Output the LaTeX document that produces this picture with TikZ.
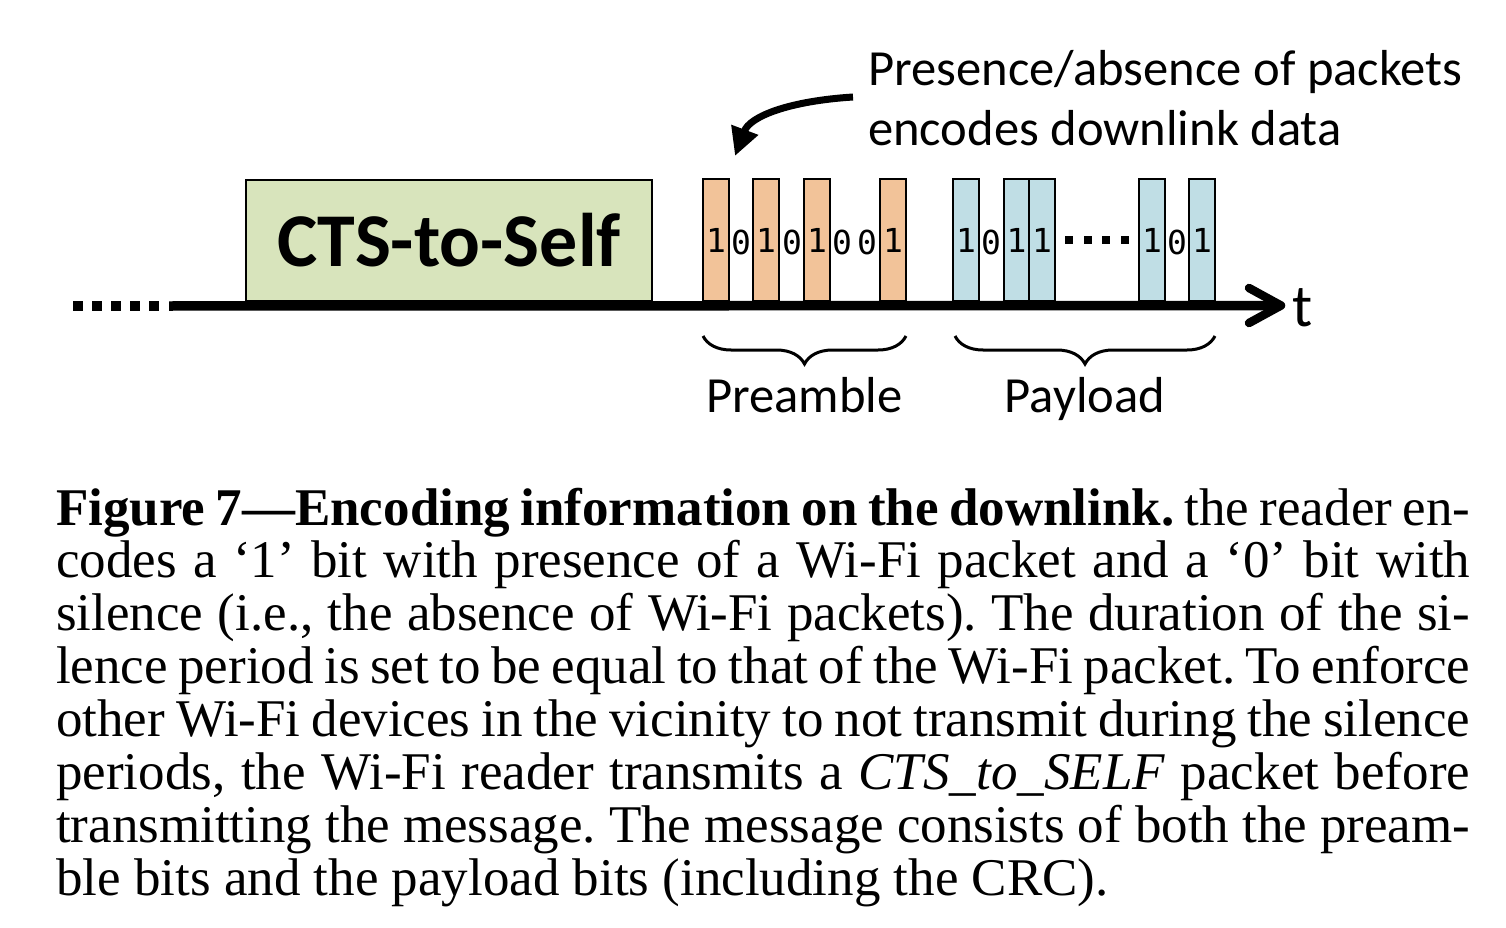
\documentclass[tikz,border=0pt]{standalone}
\usepackage{fontspec}
\setmainfont{Liberation Serif}
\newfontfamily\carl{Carlito}
\newfontfamily\monof{DejaVu Sans Mono}
\usetikzlibrary{arrows.meta,decorations.pathreplacing}
\definecolor{pktorange}{HTML}{F2C399}
\definecolor{pktblue}{HTML}{C0DEE5}
\definecolor{ctsgreen}{HTML}{D8E4BC}
\newcommand{\capline}[1]{\hbox to 1414pt{#1}}
\begin{document}
\begin{tikzpicture}[x=1pt,y=-1pt,
  bit/.style={inner sep=0, font=\monof\fontsize{33}{33}\selectfont},
  obar/.style={bit, draw, line width=2pt, fill=pktorange, minimum width=26pt, minimum height=122pt},
  bbar/.style={obar, fill=pktblue},
  sqdot/.style={fill=black, inner sep=0, minimum size=9.5pt},
  mdot/.style={fill=black, inner sep=0, minimum size=8pt},
  lbl/.style={inner sep=0, font=\carl\fontsize{50.6}{60}\selectfont},
  brc/.style={decorate, decoration={brace, mirror, amplitude=28pt}, line width=3pt},
  axisline/.style={line width=9.5pt},
  chevron/.style={line width=8.5pt, line cap=round, line join=round},
  curvarrow/.style={line width=7pt, -{Triangle[length=28pt,width=27pt]}},
]
\useasboundingbox (0,0) rectangle (1506,928);

% CTS-to-Self box
\node[draw, line width=2pt, fill=ctsgreen, minimum width=406pt, minimum height=121pt, inner sep=0,
  font=\carl\bfseries\fontsize{76}{76}\selectfont] (cts) at (449,240.5) {\raisebox{-3pt}{CTS-to-Self}};

% preamble bits
\node[obar] (o1) at (716,240) {1};
\node[bit] (z1) at (741,242) {0};
\node[obar] (o2) at (766,240) {1};
\node[bit] (z2) at (792,242) {0};
\node[obar] (o3) at (817,240) {1};
\node[bit] (z3) at (842,242) {0};
\node[bit] (z4) at (867,242) {0};
\node[obar] (o4) at (893,240) {1};

% payload bits
\node[bbar] (b1) at (966,240) {1};
\node[bit] (y1) at (991,242) {0};
\node[bbar] (b2) at (1016.5,240) {1};
\node[bbar] (b3) at (1042,240) {1};
\node[mdot] (m1) at (1069,240) {};
\node[mdot] (m2) at (1088,240) {};
\node[mdot] (m3) at (1106,240) {};
\node[mdot] (m4) at (1125,240) {};
\node[bbar] (b4) at (1152,240) {1};
\node[bit] (y2) at (1177,242) {0};
\node[bbar] (b5) at (1202,240) {1};

% left dots
\node[sqdot] (d1) at (78,306) {};
\node[sqdot] (d2) at (97,306) {};
\node[sqdot] (d3) at (116,306) {};
\node[sqdot] (d4) at (135,306) {};
\node[sqdot] (d5) at (154,306) {};

% time axis
\coordinate (ax0) at (169,306);
\coordinate (axtip) at (1281,305.5);
\coordinate (chup) at (1249,288);
\coordinate (chdn) at (1249,323);
\draw[axisline] (ax0) -- (axtip);
\draw[chevron] (chup) -- (axtip) -- (chdn);
\node[lbl, font=\carl\fontsize{60}{60}\selectfont, anchor=base west] (t) at (1292,326) {t};

% braces
\coordinate (pbl) at (703,336);
\coordinate (pbr) at (906,336);
\coordinate (ybl) at (955,336);
\coordinate (ybr) at (1215,336);
\draw[brc] (pbl) -- (pbr);
\draw[brc] (ybl) -- (ybr);
\node[lbl, anchor=base] (pre) at (804.5,412) {Preamble};
\node[lbl, anchor=base] (pay) at (1085,412) {Payload};

% annotation
\node[lbl, anchor=base west] (ann) at (868,86) {\parbox[t]{640pt}{\baselineskip=60pt Presence/absence of packets\\encodes downlink data}};
\coordinate (astart) at (853,97);
\coordinate (atip) at (735,156);
\draw[curvarrow] (astart) .. controls (790,101) and (750,116) .. (atip);

% caption
\node[anchor=base west, inner sep=0] (cap) at (56,525) {\parbox[t]{1414pt}{\fontsize{53}{52.86}\selectfont
\frenchspacing\baselineskip=52.86pt \lineskiplimit=-100pt
\capline{\textbf{Figure 7—Encoding information on the downlink.} the reader en-}
\capline{codes a ‘1’ bit with presence of a Wi-Fi packet and a ‘0’ bit with}
\capline{silence (i.e., the absence of Wi-Fi packets). The duration of the si-}
\capline{lence period is set to be equal to that of the Wi-Fi packet. To enforce}
\capline{other Wi-Fi devices in the vicinity to not transmit during the silence}
\capline{periods, the Wi-Fi reader transmits a \textit{CTS\_to\_SELF} packet before}
\capline{transmitting the message. The message consists of both the pream-}
\hbox{ble bits and the payload bits (including the CRC).}}};
\end{tikzpicture}
\end{document}
